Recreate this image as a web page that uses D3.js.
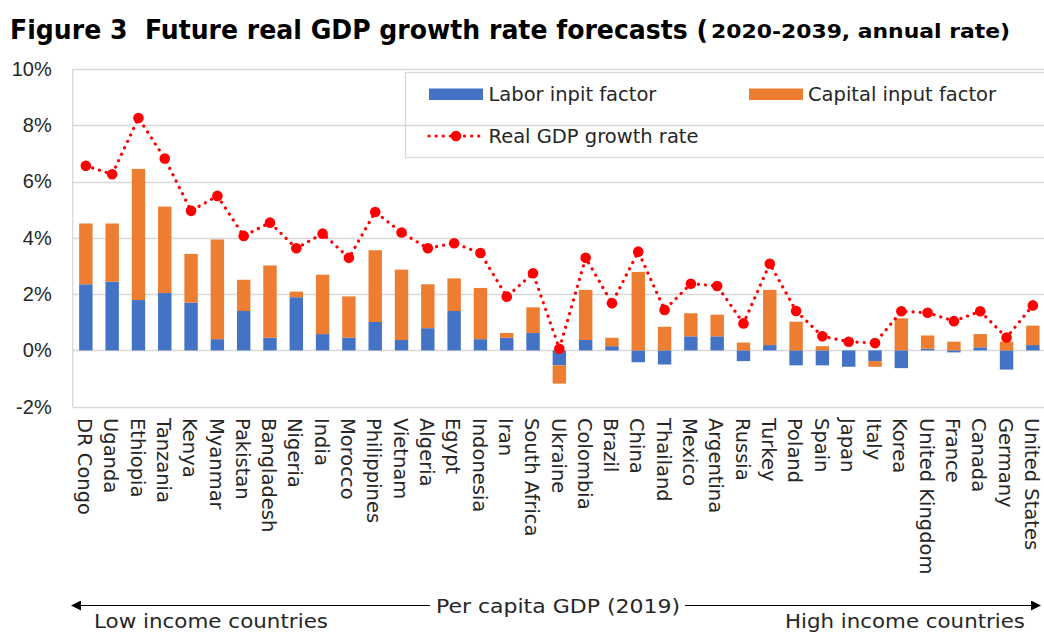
<!DOCTYPE html>
<html>
<head>
<meta charset="utf-8">
<script src="https://cdn.jsdelivr.net/npm/d3@7"></script>
<style>
  body { margin: 0; background: #fff; }
  svg { display: block; }
</style>
</head>
<body>
<div id="chart"></div>
<script>
// Countries ordered by per capita GDP (2019), low to high.
const countries = ["DR Congo", "Uganda", "Ethiopia", "Tanzania", "Kenya", "Myanmar", "Pakistan",
  "Bangladesh", "Nigeria", "India", "Morocco", "Philippines", "Vietnam", "Algeria", "Egypt",
  "Indonesia", "Iran", "South Africa", "Ukraine", "Colombia", "Brazil", "China", "Thailand",
  "Mexico", "Argentina", "Russia", "Turkey", "Poland", "Spain", "Japan", "Italy", "Korea",
  "United Kingdom", "France", "Canada", "Germany", "United States"];

// Contributions (% points) and total growth (%).
const labor = [2.35, 2.44, 1.79, 2.04, 1.70, 0.40, 1.40, 0.45, 1.89, 0.58, 0.45, 1.01, 0.37,
  0.79, 1.40, 0.40, 0.45, 0.62, -0.53, 0.37, 0.15, -0.42, -0.50, 0.50, 0.50, -0.38, 0.19,
  -0.53, -0.53, -0.58, -0.38, -0.63, 0.06, -0.07, 0.11, -0.68, 0.19];
const capital = [2.16, 2.07, 4.66, 3.07, 1.73, 3.54, 1.11, 2.57, 0.20, 2.11, 1.47, 2.55, 2.50,
  1.56, 1.16, 1.82, 0.17, 0.91, -0.65, 1.78, 0.30, 2.79, 0.84, 0.82, 0.77, 0.28, 1.96,
  1.02, 0.15, 0.00, -0.20, 1.14, 0.47, 0.31, 0.47, 0.31, 0.69];
const gdp = [6.56, 6.26, 8.26, 6.82, 4.96, 5.49, 4.07, 4.54, 3.63, 4.15, 3.29, 4.92, 4.19,
  3.63, 3.81, 3.46, 1.91, 2.74, 0.06, 3.29, 1.68, 3.51, 1.44, 2.37, 2.29, 0.96, 3.08,
  1.40, 0.50, 0.31, 0.26, 1.39, 1.34, 1.04, 1.39, 0.46, 1.60];

const yTicks = [-2, 0, 2, 4, 6, 8, 10];
const seriesNames = ["Labor inpit factor", "Capital input factor", "Real GDP growth rate"];
const colors = {labor: "#4472c4", capital: "#ed7d31", gdp: "#ff0000"};

const W = 1044, H = 633;
const plot = {left: 72.7, right: 1046, top: 69, bottom: 406.7};

let svg = d3.select("#chart").append("svg")
    .attr("width", W)
    .attr("height", H);

let rows = countries.map((c, i) => ({country: c, labor: labor[i], capital: capital[i], gdp: gdp[i]}));

let x = d3.scaleBand()
    .domain(countries)
    .range([plot.left, plot.right])
    .paddingInner(0.49)
    .paddingOuter(0.245);

let y = d3.scaleLinear()
    .domain([-2, 10])
    .range([plot.bottom, plot.top]);

// Gridlines.
svg.append("g")
  .selectAll("line")
  .data(yTicks)
  .join("line")
    .attr("x1", plot.left)
    .attr("x2", plot.right)
    .attr("y1", d => Math.round(y(d)) + 0.5)
    .attr("y2", d => Math.round(y(d)) + 0.5)
    .attr("stroke", "#d9d9d9")
    .attr("stroke-width", 1.3);

svg.append("line")
    .attr("x1", plot.left).attr("x2", plot.left)
    .attr("y1", plot.top).attr("y2", plot.bottom)
    .attr("stroke", "#d9d9d9")
    .attr("stroke-width", 1.3);

// Y axis labels.
let yAxis = svg.append("g")
    .attr("transform", `translate(${plot.left - 21},0)`)
    .call(d3.axisLeft(y).tickValues(yTicks).tickSize(0).tickPadding(0).tickFormat(d => d + "%"));
yAxis.select(".domain").remove();
yAxis.selectAll("text")
    .attr("font-family", "'Liberation Sans', Arial, sans-serif")
    .attr("font-size", 20)
    .attr("fill", "#262626");

// Stacked bars, positive and negative stacked apart.
let stack = d3.stack()
    .keys(["labor", "capital"])
    .offset(d3.stackOffsetDiverging);
let layers = stack(rows);

svg.append("g")
  .selectAll("g")
  .data(layers)
  .join("g")
    .attr("fill", d => colors[d.key])
  .selectAll("rect")
  .data(d => d)
  .join("rect")
    .attr("x", d => x(d.data.country))
    .attr("width", x.bandwidth())
    .attr("y", d => y(Math.max(d[0], d[1])))
    .attr("height", d => Math.abs(y(d[0]) - y(d[1])));

// GDP line: dotted red with round markers.
let line = d3.line()
    .x(d => x(d.country) + x.bandwidth() / 2)
    .y(d => y(d.gdp));

svg.append("path")
    .datum(rows)
    .attr("fill", "none")
    .attr("stroke", colors.gdp)
    .attr("stroke-width", 3.2)
    .attr("stroke-linecap", "round")
    .attr("stroke-dasharray", "0.1 7")
    .attr("d", line);

svg.append("g")
  .selectAll("circle")
  .data(rows)
  .join("circle")
    .attr("cx", d => x(d.country) + x.bandwidth() / 2)
    .attr("cy", d => y(d.gdp))
    .attr("r", 5.3)
    .attr("fill", colors.gdp);

// Country labels, rotated.
svg.append("g")
  .selectAll("text")
  .data(countries)
  .join("text")
    .attr("transform", d => `translate(${x(d) + x.bandwidth() / 2 - 1},418) rotate(90)`)
    .attr("dy", "0.35em")
    .attr("font-family", "'DejaVu Sans', sans-serif")
    .attr("font-size", 19.5)
    .attr("fill", "#262626")
    .text(d => d);

// Legend (no fill, gridlines show through).
let legend = svg.append("g");
legend.append("rect")
    .attr("x", 405.5).attr("y", 72.5)
    .attr("width", 700).attr("height", 85)
    .attr("fill", "none")
    .attr("stroke", "#d9d9d9")
    .attr("stroke-width", 1.3);

legend.append("rect")
    .attr("x", 429).attr("y", 88.5).attr("width", 54).attr("height", 11.5)
    .attr("fill", colors.labor);
legend.append("rect")
    .attr("x", 749).attr("y", 88.5).attr("width", 54).attr("height", 11.5)
    .attr("fill", colors.capital);
legend.append("line")
    .attr("x1", 429).attr("x2", 483)
    .attr("y1", 136).attr("y2", 136)
    .attr("stroke", colors.gdp)
    .attr("stroke-width", 3.2)
    .attr("stroke-linecap", "round")
    .attr("stroke-dasharray", "0.1 7");
legend.append("circle")
    .attr("cx", 456).attr("cy", 136).attr("r", 5.3)
    .attr("fill", colors.gdp);

legend.selectAll("text.lg")
  .data([[488.5, 101, seriesNames[0]], [808, 101, seriesNames[1]], [488.5, 143, seriesNames[2]]])
  .join("text")
    .attr("class", "lg")
    .attr("x", d => d[0])
    .attr("y", d => d[1])
    .attr("font-family", "'DejaVu Sans', sans-serif")
    .attr("font-size", 19.5)
    .attr("fill", "#262626")
    .text(d => d[2]);

// Title.
svg.append("text")
    .attr("x", 10).attr("y", 39)
    .attr("font-family", "'DejaVu Sans Condensed', 'DejaVu Sans', sans-serif")
    .attr("font-weight", "bold")
    .attr("font-size", 27)
    .attr("textLength", 698)
    .attr("lengthAdjust", "spacingAndGlyphs")
    .attr("fill", "#000")
    .attr("xml:space", "preserve")
    .text("Figure 3  Future real GDP growth rate forecasts (");
svg.append("text")
    .attr("x", 711).attr("y", 38)
    .attr("font-family", "'DejaVu Sans Condensed', 'DejaVu Sans', sans-serif")
    .attr("font-weight", "bold")
    .attr("font-size", 20)
    .attr("textLength", 299)
    .attr("lengthAdjust", "spacingAndGlyphs")
    .attr("fill", "#000")
    .text("2020-2039, annual rate)");

// Bottom arrow annotation.
svg.append("defs").append("marker")
    .attr("id", "arrow")
    .attr("viewBox", "0 0 10 10")
    .attr("refX", 9).attr("refY", 5)
    .attr("markerWidth", 10).attr("markerHeight", 10)
    .attr("markerUnits", "userSpaceOnUse")
    .attr("orient", "auto-start-reverse")
  .append("path")
    .attr("d", "M0,0 L10,5 L0,10 Z")
    .attr("fill", "#000");

svg.append("line")
    .attr("x1", 72).attr("x2", 1040)
    .attr("y1", 605.5).attr("y2", 605.5)
    .attr("stroke", "#000")
    .attr("stroke-width", 1.2)
    .attr("marker-start", "url(#arrow)")
    .attr("marker-end", "url(#arrow)");

svg.append("rect")
    .attr("x", 430).attr("y", 594).attr("width", 255).attr("height", 24)
    .attr("fill", "#fff");

svg.append("text")
    .attr("x", 436).attr("y", 613)
    .attr("font-family", "'DejaVu Sans Condensed', 'DejaVu Sans', sans-serif")
    .attr("font-size", 20)
    .attr("textLength", 244)
    .attr("lengthAdjust", "spacingAndGlyphs")
    .attr("fill", "#262626")
    .text("Per capita GDP (2019)");

svg.append("text")
    .attr("x", 94).attr("y", 628)
    .attr("font-family", "'DejaVu Sans', sans-serif")
    .attr("font-size", 19)
    .attr("textLength", 234)
    .attr("lengthAdjust", "spacingAndGlyphs")
    .attr("fill", "#262626")
    .text("Low income countries");

svg.append("text")
    .attr("x", 785).attr("y", 628)
    .attr("font-family", "'DejaVu Sans', sans-serif")
    .attr("font-size", 19)
    .attr("textLength", 240)
    .attr("lengthAdjust", "spacingAndGlyphs")
    .attr("fill", "#262626")
    .text("High income countries");
</script>
</body>
</html>
